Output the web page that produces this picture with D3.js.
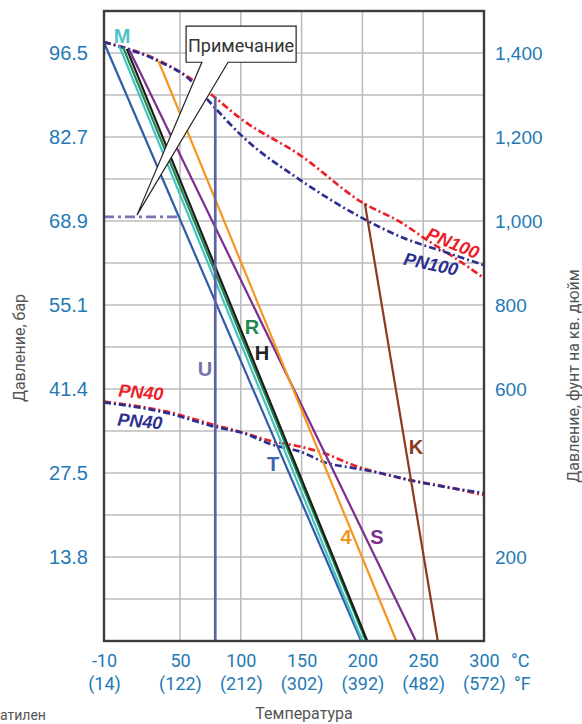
<!DOCTYPE html>
<html>
<head>
<meta charset="utf-8">
<script src="https://cdn.jsdelivr.net/npm/d3@7"></script>
<style>
  body { margin: 0; background: #fff; }
  svg { display: block; }
</style>
</head>
<body>
<div id="chart"></div>
<script>
// DATA (temperature in °C, pressure in psi)

const tempTicksC = [-10, 50, 100, 150, 200, 250, 300];
const tempTicksF = ["(14)", "(122)", "(212)", "(302)", "(392)", "(482)", "(572)"];
const gridTemps  = [50, 100, 150, 200, 250];

const psiTicksLeft  = [1400, 1200, 1000, 800, 600, 400, 200];
const barLabels     = ["96.5", "82.7", "68.9", "55.1", "41.4", "27.5", "13.8"];
const psiTicksRight = [1400, 1200, 1000, 800, 600, 200];

const lineT = [[-10, 1425], [199, 0]];
const lineM = [[2, 1417], [200, 0]];
const lineR = [[5, 1414], [203, 0]];
const lineH = [[8, 1410], [204, 0]];
const lineS = [[10, 1407], [244, 0]];
const line4 = [[33, 1381], [228, 0]];
const lineK = [[202, 1042], [262, 0]];
const lineU = [[79, 1296], [79, 0]];

const pn100Red  = [[-10, 1426], [32.6, 1383], [58.2, 1340], [76.3, 1300], [99.3, 1245],
                   [148.7, 1157], [200.5, 1043], [230.9, 998], [253.1, 955], [276.2, 912], [300, 864]];
const pn100Blue = [[-10, 1426], [32.6, 1381], [58.2, 1336], [73, 1288], [101.8, 1200],
                   [148.7, 1098], [198, 1010], [233.4, 960], [268, 926], [300, 895]];
const pn40Red   = [[-10, 570], [39.5, 546], [78.8, 514], [101.8, 496], [126.5, 475], [148.7, 463],
                   [170.6, 445], [192.3, 419], [214.5, 400], [239.1, 383], [269.3, 367], [300, 347]];
const pn40Blue  = [[-10, 568], [39.5, 543], [78.8, 510], [101.8, 495], [126.5, 467], [148.7, 451],
                   [170.6, 424], [192.3, 412], [214.5, 400], [239.1, 383], [300, 352]];
const noteLine  = [[-10, 1010], [50, 1010]];

// SETUP

const width = 582;
const height = 724;

const x = d3.scaleLinear().domain([-10, 50, 300]).range([104, 180, 484]);
const y = d3.scaleLinear().domain([0, 1500]).range([641, 11]);

const svg = d3.select("#chart").append("svg")
  .attr("width", width)
  .attr("height", height);

const line = d3.line().x(d => x(d[0])).y(d => y(d[1]));
const curve = d3.line().x(d => x(d[0])).y(d => y(d[1])).curve(d3.curveMonotoneX);

// GRID

svg.append("g").selectAll("line")
  .data(gridTemps)
  .join("line")
  .attr("x1", d => x(d)).attr("x2", d => x(d))
  .attr("y1", y(1500)).attr("y2", y(0))
  .attr("stroke", "#bdbdbd")
  .attr("stroke-width", 1.6);

svg.append("g").selectAll("line")
  .data(y.ticks(15).filter(d => d > 0 && d < 1500))
  .join("line")
  .attr("x1", x(-10)).attr("x2", x(300))
  .attr("y1", d => y(d)).attr("y2", d => y(d))
  .attr("stroke", "#bdbdbd")
  .attr("stroke-width", 1.6);

// PN CURVES

const pnSeries = [
  {values: pn100Red,  color: "#ec2028"},
  {values: pn100Blue, color: "#2c2f8f"},
  {values: pn40Red,   color: "#ec2028"},
  {values: pn40Blue,  color: "#2c2f8f"}
];

svg.append("g").selectAll("path")
  .data(pnSeries)
  .join("path")
  .attr("d", d => curve(d.values))
  .attr("fill", "none")
  .attr("stroke", d => d.color)
  .attr("stroke-width", 2.7)
  .attr("stroke-dasharray", "7,3,2,3");

// MATERIAL LINES

const materialSeries = [
  {values: lineT, color: "#2f5ca8", width: 2.2},
  {values: lineM, color: "#45c2c6", width: 2.2},
  {values: lineR, color: "#1e8a4c", width: 2.2},
  {values: lineH, color: "#1c1c1c", width: 2.2},
  {values: lineS, color: "#7a2f8e", width: 2.2},
  {values: line4, color: "#f5961f", width: 2.2},
  {values: lineK, color: "#8b3a20", width: 2.2},
  {values: lineU, color: "#5e62a2", width: 2.7}
];

svg.append("g").selectAll("path")
  .data(materialSeries)
  .join("path")
  .attr("d", d => line(d.values))
  .attr("fill", "none")
  .attr("stroke", d => d.color)
  .attr("stroke-width", d => d.width);

svg.append("path")
  .attr("d", line(noteLine))
  .attr("fill", "none")
  .attr("stroke", "#7a72b4")
  .attr("stroke-width", 2.7)
  .attr("stroke-dasharray", "10,4,3,4");

// NOTE BUBBLE

const bx0 = x(55), bx1 = x(145.5), by0 = y(1464), by1 = y(1378);
const tailA = x(68), tailB = x(89.5), tipX = x(16), tipY = y(1014);

svg.append("path")
  .attr("d", `M${bx0},${by0}H${bx1}V${by1}H${tailB}L${tipX},${tipY}L${tailA},${by1}H${bx0}Z`)
  .attr("fill", "#fff")
  .attr("stroke", "#222")
  .attr("stroke-width", 1.2);

svg.append("text")
  .attr("x", (bx0 + bx1) / 2)
  .attr("y", by1 - 10)
  .attr("text-anchor", "middle")
  .attr("font-family", "Roboto, sans-serif")
  .attr("font-size", 18)
  .attr("fill", "#333")
  .text("Примечание");

// LABELS

const lineLabels = [
  {text: "M", t: 4.2,   p: 1440, color: "#4cc6c8"},
  {text: "R", t: 109.2, p: 748,  color: "#1e8a4c"},
  {text: "H", t: 117.4, p: 686,  color: "#222"},
  {text: "U", t: 70.6,  p: 648,  color: "#7474a8"},
  {text: "T", t: 126.5, p: 421,  color: "#3b64ad"},
  {text: "4", t: 186.5, p: 248,  color: "#f0951e"},
  {text: "S", t: 212,   p: 248,  color: "#7b2f8c"},
  {text: "K", t: 244.1, p: 462,  color: "#8b3a1e"}
];

svg.append("g").selectAll("text")
  .data(lineLabels)
  .join("text")
  .attr("x", d => x(d.t))
  .attr("y", d => y(d.p))
  .attr("dy", "0.36em")
  .attr("text-anchor", "middle")
  .attr("font-family", "Liberation Sans, Arial, sans-serif")
  .attr("font-weight", "bold")
  .attr("font-size", 20)
  .attr("fill", d => d.color)
  .text(d => d.text);

const pnLabels = [
  {text: "PN100", t: 274.5, p: 948, angle: 22, color: "#ec2028"},
  {text: "PN100", t: 256.4, p: 898, angle: 12, color: "#2c2f8f"},
  {text: "PN40",  t: 19.2,  p: 593, angle: 5,  color: "#ec2028"},
  {text: "PN40",  t: 18.4,  p: 524, angle: 5,  color: "#2c2f8f"}
];

svg.append("g").selectAll("text")
  .data(pnLabels)
  .join("text")
  .attr("transform", d => `translate(${x(d.t)},${y(d.p)}) rotate(${d.angle})`)
  .attr("dy", "0.36em")
  .attr("text-anchor", "middle")
  .attr("font-family", "Liberation Sans, Arial, sans-serif")
  .attr("font-weight", "bold")
  .attr("font-style", "italic")
  .attr("font-size", 18)
  .attr("fill", d => d.color)
  .text(d => d.text);

// FRAME

svg.append("rect")
  .attr("x", x(-10)).attr("y", y(1500))
  .attr("width", x(300) - x(-10))
  .attr("height", y(0) - y(1500))
  .attr("fill", "none")
  .attr("stroke", "#3c3c3c")
  .attr("stroke-width", 2.4);

// AXES

const tickBlue = "#2479b5";

const leftAxis = svg.append("g")
  .attr("transform", `translate(${x(-10)},0)`)
  .call(d3.axisLeft(y).tickValues(psiTicksLeft).tickSize(0).tickPadding(16)
    .tickFormat((d, i) => barLabels[i]));

const rightAxis = svg.append("g")
  .attr("transform", `translate(${x(300)},0)`)
  .call(d3.axisRight(y).tickValues(psiTicksRight).tickSize(0).tickPadding(11)
    .tickFormat(d3.format(",")));

const bottomC = svg.append("g")
  .attr("transform", `translate(0,${y(0)})`)
  .call(d3.axisBottom(x).tickValues(tempTicksC).tickSize(0).tickPadding(13)
    .tickFormat(d => d));

const bottomF = svg.append("g")
  .attr("transform", `translate(0,${y(0)})`)
  .call(d3.axisBottom(x).tickValues(tempTicksC).tickSize(0).tickPadding(36)
    .tickFormat((d, i) => tempTicksF[i]));

[leftAxis, rightAxis, bottomC, bottomF].forEach(g => {
  g.select(".domain").remove();
  g.selectAll("text").attr("fill", tickBlue);
});
leftAxis.selectAll("text").attr("font-family", "Liberation Sans, Arial, sans-serif").attr("font-size", 20);
rightAxis.selectAll("text").attr("font-family", "Liberation Sans, Arial, sans-serif").attr("font-size", 19);
[bottomC, bottomF].forEach(g => g.selectAll("text")
  .attr("font-family", "Roboto, sans-serif").attr("font-size", 18));

svg.append("text")
  .attr("x", 511).attr("y", 667)
  .attr("font-family", "Roboto, sans-serif").attr("font-size", 18)
  .attr("fill", tickBlue)
  .text("°C");
svg.append("text")
  .attr("x", 514).attr("y", 690)
  .attr("font-family", "Roboto, sans-serif").attr("font-size", 18)
  .attr("fill", tickBlue)
  .text("°F");

// AXIS TITLES

svg.append("text")
  .attr("transform", "translate(25,348) rotate(-90)")
  .attr("text-anchor", "middle")
  .attr("font-family", "Roboto, sans-serif").attr("font-size", 16)
  .attr("fill", "#555")
  .text("Давление, бар");

svg.append("text")
  .attr("transform", "translate(579,376) rotate(-90)")
  .attr("text-anchor", "middle")
  .attr("font-family", "Roboto, sans-serif").attr("font-size", 16)
  .attr("fill", "#555")
  .text("Давление, фунт на кв. дюйм");

svg.append("text")
  .attr("x", 304).attr("y", 719)
  .attr("text-anchor", "middle")
  .attr("font-family", "Roboto, sans-serif").attr("font-size", 16)
  .attr("fill", "#555")
  .text("Температура");

svg.append("text")
  .attr("x", 0).attr("y", 720)
  .attr("font-family", "Roboto, sans-serif").attr("font-size", 14)
  .attr("fill", "#555")
  .text("атилен");
</script>
</body>
</html>
